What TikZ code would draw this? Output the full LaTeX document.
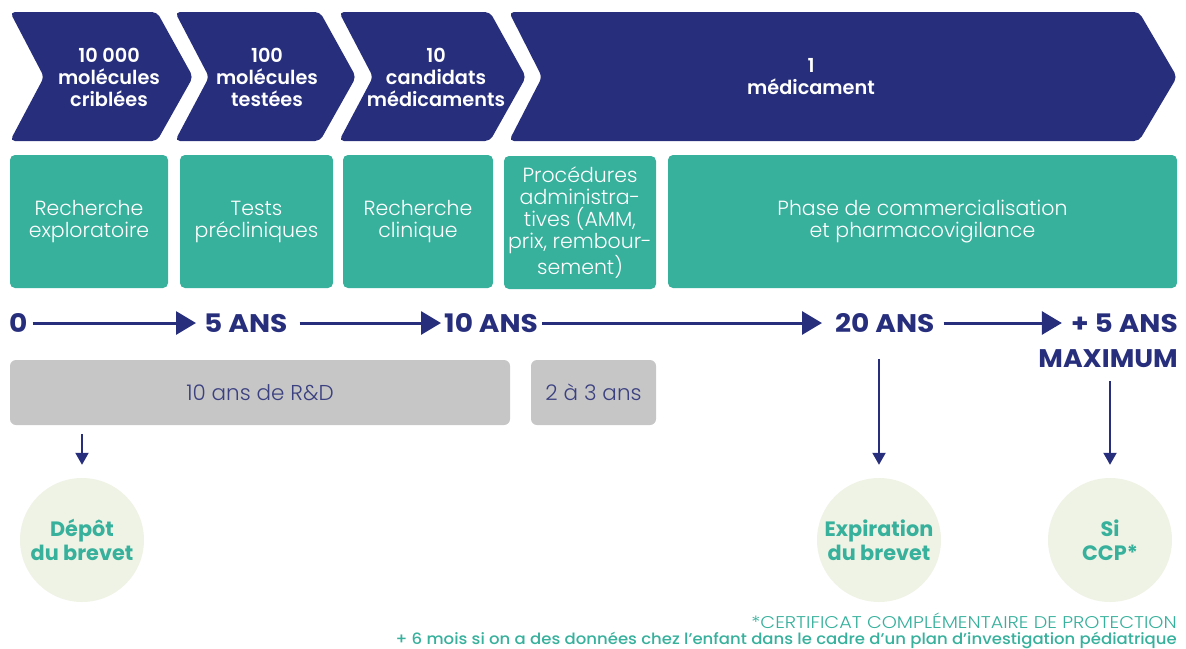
\documentclass[tikz,border=0pt]{standalone}
\usepackage{fontspec}
\setmainfont{Poppins}
\newfontfamily\lightf{Poppins Light}
\newfontfamily\semif{Poppins SemiBold}
\newfontfamily\medf{Poppins Medium}
\usetikzlibrary{arrows.meta}
\definecolor{navy}{HTML}{272F7D}
\definecolor{tealc}{HTML}{37B09C}
\definecolor{circc}{HTML}{EFF3E5}
\definecolor{grayb}{HTML}{C6C6C6}
\definecolor{graytxt}{HTML}{3B4080}
\begin{document}
\begin{tikzpicture}[x=1pt,y=-1pt,
 chev/.style={fill=navy, rounded corners=5pt},
 chevtxt/.style={text=white, font=\semif\fontsize{19.3}{22}\selectfont, align=center, inner sep=0},
 phase/.style={fill=tealc, text=white, rounded corners=5pt, font=\lightf\fontsize{20.5}{22}\selectfont, align=center, inner sep=0, minimum height=133pt},
 dur/.style={fill=grayb, text=graytxt, rounded corners=6pt, font=\lightf\fontsize{21.5}{22}\selectfont, minimum height=65pt, inner sep=0},
 yr/.style={text=navy, font=\bfseries\fontsize{25.5}{30}\selectfont\addfontfeature{FakeStretch=1.1}, inner sep=0},
 tl/.style={draw=navy, line width=3pt, -{Triangle[length=20pt,width=23pt]}},
 dn/.style={draw=navy, line width=2pt, -{Triangle[length=12pt,width=13pt]}},
 event/.style={circle, fill=circc, text=tealc, minimum size=124pt, inner sep=0, align=center, font=\bfseries\fontsize{20.8}{24}\selectfont},
 foot/.style={text=tealc, inner sep=0, anchor=east}
]
\useasboundingbox (0,0) rectangle (1186,648);
% chevrons
\fill[chev] (10,12) -- (157,12) -- (193,77) -- (157,141) -- (10,141) -- (44,77) -- cycle;
\fill[chev] (175,12) -- (320,12) -- (356,77) -- (320,141) -- (175,141) -- (209,77) -- cycle;
\fill[chev] (339,12) -- (490,12) -- (526,77) -- (490,141) -- (339,141) -- (373,77) -- cycle;
\fill[chev] (509,12) -- (1139,12) -- (1177,77) -- (1139,141) -- (509,141) -- (542,77) -- cycle;
\node[chevtxt] (n1) at (109,77) {10 000\\molécules\\criblées};
\node[chevtxt] (n2) at (267,77) {100\\molécules\\testées};
\node[chevtxt] (n3) at (436,77) {10\\candidats\\médicaments};
\node[chevtxt] (n4) at (811,77) {1\\médicament};
% phases
\node[phase, minimum width=158pt] (p1) at (89,221.5) {Recherche\\exploratoire};
\node[phase, minimum width=153pt] (p2) at (256.5,221.5) {Tests\\précliniques};
\node[phase, minimum width=150pt] (p3) at (418,221.5) {Recherche\\clinique};
\node[phase, minimum width=152pt] (p4) at (580,222.5) {Procédures\\administra-\\tives (AMM,\\prix, rembour-\\sement)};
\node[phase, minimum width=509pt] (p5) at (922.5,221.5) {Phase de commercialisation\\et pharmacovigilance};
% timeline
\node[yr, anchor=west] (t0) at (9,323) {0};
\node[yr, anchor=west] (t5) at (204,323) {5 ANS};
\node[yr, anchor=west] (t10) at (444,323) {10 ANS};
\node[yr, anchor=west] (t20) at (835,323) {20 ANS};
\node[yr, anchor=east] (t25) at (1178,323) {+ 5 ANS};
\node[yr, anchor=east, font=\bfseries\fontsize{25.5}{30}\selectfont\addfontfeature{FakeStretch=1.05}] (tmax) at (1178,359) {MAXIMUM};
\draw[tl, shorten <=5pt, shorten >=8pt] (t0.east) -- (t5.west);
\draw[tl, shorten <=12pt, shorten >=3pt] (t5.east) -- (t10.west);
\draw[tl, shorten <=4pt, shorten >=13pt] (t10.east) -- (t20.west);
\draw[tl, shorten <=9pt, shorten >=9pt] (t20.east) -- (t25.west);
% durations
\node[dur, minimum width=500pt] (rd) at (260,392.5) {10 ans de R\&D};
\node[dur, minimum width=125pt] (adm) at (593.5,392.5) {2 à 3 ans};
% events
\node[event] (dep) at (82,540) {Dépôt\\du brevet};
\node[event] (exp) at (879,540) {Expiration\\du brevet};
\node[event] (ccp) at (1110,540) {Si\\CCP*};
\draw[dn, shorten <=9pt, shorten >=13pt] (rd.south -| dep.north) -- (dep.north);
\draw[dn, shorten <=26pt, shorten >=13pt] (t20.south -| exp.north) -- (exp.north);
\draw[dn, shorten <=13pt, shorten >=13pt] (tmax.south -| ccp.north) -- (ccp.north);
% footnotes
\node[foot, font=\lightf\fontsize{17}{18}\selectfont\addfontfeature{FakeStretch=1.13}] (f1) at (1177,621) {*CERTIFICAT COMPLÉMENTAIRE DE PROTECTION};
\node[foot, font=\medf\fontsize{15.5}{18}\selectfont\addfontfeature{FakeStretch=1.065}] (f2) at (1177,640) {+ 6 mois si on a des données chez l’enfant dans le cadre d’un plan d’investigation pédiatrique};
\end{tikzpicture}
\end{document}
